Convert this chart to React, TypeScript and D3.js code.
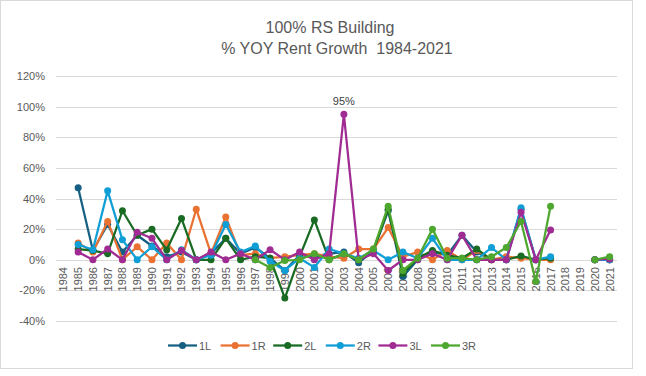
import React from "react";
import * as d3 from "d3";

const years: string[] = d3.range(1984, 2022).map(String);
const yTicks: number[] = [-40, -20, 0, 20, 40, 60, 80, 100, 120];
const seriesNames: string[] = ["1L", "1R", "2L", "2R", "3L", "3R"];
const seriesColors: string[] = ["#156082", "#E97132", "#196B24", "#0F9ED5", "#A02B93", "#4EA72E"];

type V = number | null;
const s1L: V[] = [null, 47, 6, 23, 5, 16, 9, 2, 5, 0, 4, 14, 4, 8, 1, -7, 3, 2, 4, 5, -2, 6, 32, -11, 0, 5, 3, 16, 5, 0, 0, 33, 0, 1, null, null, 0, 0];
const s1R: V[] = [null, 11, 5, 25, 0, 8.5, 0, 11, 0, 33, 4, 28, 3, 4, 1, 2, 3, 4, 2, 1, 7, 7, 21, 2, 5, 0, 6, 0, 6, 0, 2, 1, 0, 0, null, null, 0, 0];
const s2L: V[] = [null, 7, 6, 4, 32, 16, 20, 6.5, 27, 0, 0, 14, 0, 2, 1, -25, 2, 26, 0, 4, 0, 6, 33, -9, 1, 6, 3, 1, 7, 0, 0, 2.5, 0, 1, null, null, 0, 0];
const s2R: V[] = [null, 10, 6.5, 45, 13, 0, 8.5, 0, 6.5, 0, 3, 23, 5, 9, -1, -7, 1, -5, 7, 4, 1, 6, 0, 5, 1, 14, 0, 0, 0, 8, 0, 34, 0, 2, null, null, 0, 0];
const s3L: V[] = [null, 5, 0, 7, 0, 18, 14, 0, 6, 0, 5, 0, 4, 0, 6.5, 0, 5, 0, 4, 95, 0, 4, -7, 0, 0, 4, 0, 16, 0, 0, 0, 31, 0, 19.5, null, null, 0, 0.5];
const s3R: V[] = [null, null, null, null, null, null, null, null, null, null, null, null, null, 0, -5, -0.5, 0, 4, 0, 4, 0, 7, 35, -7, 1, 20, 1, 1, 0, 2, 8, 25, -14, 35, null, null, 0, 2];
const allSeries: V[][] = [s1L, s1R, s2L, s2R, s3L, s3R];

const FONT = "'Liberation Sans', Arial, sans-serif";

export default function App() {
  const W = 646, H = 376;
  const x = d3.scaleBand<string>().domain(years).range([56, 617]);
  const y = d3.scaleLinear().domain([-40, 120]).range([321, 76]);
  const cx = (i: number) => (x(years[i]) as number) + x.bandwidth() / 2;
  const line = d3
    .line<V>()
    .defined((d) => d != null)
    .x((_, i) => cx(i))
    .y((d) => y(d as number));

  const peakIdx = s3L.indexOf(95);

  return (
    <div style={{ position: "fixed", left: 0, top: 0, width: W, height: H, background: "#fff" }}>
      <svg width={W} height={H} style={{ display: "block" }} fontFamily={FONT}>
        <rect x={0.5} y={0.5} width={632} height={368} fill="#fff" stroke="#D9D9D9" />
        <text x={330} y={33} textAnchor="middle" fontSize={16} fill="#595959">100% RS Building</text>
        <text x={337} y={54} textAnchor="middle" fontSize={16} fill="#595959" style={{ whiteSpace: "pre" }}>
          {"% YOY Rent Growth  1984-2021"}
        </text>
        {yTicks.map((t) => (
          <g key={t}>
            <line x1={56} x2={617} y1={Math.round(y(t)) + 0.5} y2={Math.round(y(t)) + 0.5} stroke="#D9D9D9" strokeWidth={1} />
            <text x={45} y={y(t) + 4} textAnchor="end" fontSize={11} fill="#595959">{t}%</text>
          </g>
        ))}
        {years.map((yr, i) => (
          <text key={yr} transform={`translate(${cx(i) + 4},${267}) rotate(-90)`} textAnchor="end" fontSize={11} fill="#595959">
            {yr}
          </text>
        ))}
        {allSeries.map((s, k) => (
          <g key={seriesNames[k]}>
            <path d={line(s) || ""} fill="none" stroke={seriesColors[k]} strokeWidth={2.25} strokeLinejoin="round" />
            {s.map((v, i) =>
              v == null ? null : <circle key={i} cx={cx(i)} cy={y(v)} r={3.5} fill={seriesColors[k]} />
            )}
          </g>
        ))}
        <text x={cx(peakIdx)} y={y(95) - 9} textAnchor="middle" fontSize={11} fill="#404040">95%</text>
        {seriesNames.map((n, k) => {
          const lx = 168 + k * 52.6;
          return (
            <g key={n}>
              <line x1={lx} x2={lx + 29} y1={345.5} y2={345.5} stroke={seriesColors[k]} strokeWidth={2.25} />
              <circle cx={lx + 14.5} cy={345.5} r={3.5} fill={seriesColors[k]} />
              <text x={lx + 31} y={349.5} fontSize={11} fill="#595959">{n}</text>
            </g>
          );
        })}
      </svg>
    </div>
  );
}
